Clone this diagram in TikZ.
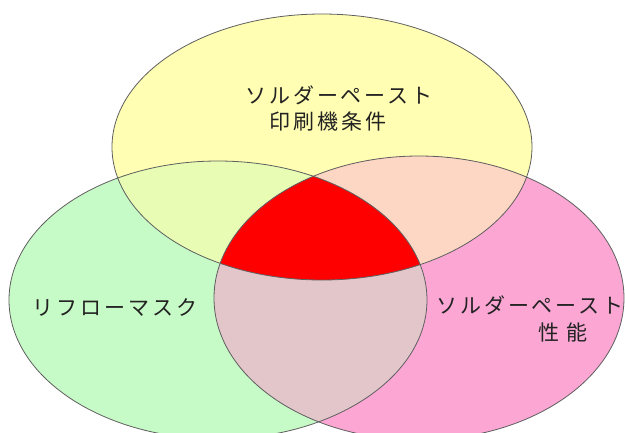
\documentclass[tikz,border=0pt]{standalone}
\usepackage{fontspec}
\setmainfont{Noto Sans CJK JP}[LetterSpace=14]
\usetikzlibrary{positioning}
\definecolor{cyellow}{RGB}{255,254,178}
\definecolor{cgreen}{RGB}{198,250,198}
\definecolor{cpink}{RGB}{252,166,212}
\definecolor{cyg}{RGB}{232,252,180}
\definecolor{cyp}{RGB}{253,215,195}
\definecolor{cgp}{RGB}{226,198,202}
\definecolor{linegray}{RGB}{95,95,95}
\definecolor{textgray}{RGB}{34,34,34}
\def\yellowset{(322,147) ellipse [x radius=210, y radius=133]}
\def\greenset{(218,300) ellipse [x radius=209, y radius=139]}
\def\pinkset{(419,298) ellipse [x radius=205, y radius=142]}

\begin{document}
\begin{tikzpicture}[x=1pt,y=-1pt,
    outline/.style={draw=linegray,line width=0.8pt},
    venntext/.style={text=textgray,font=\fontsize{21}{24}\selectfont,inner sep=0pt}]
\clip (0,0) rectangle (625,432);
\fill[white] (0,0) rectangle (625,432);
\fill[cyellow] \yellowset;
\fill[cgreen] \greenset;
\fill[cpink] \pinkset;
\begin{scope}
    \clip \yellowset;
    \fill[cyg] \greenset;
    \fill[cyp] \pinkset;
\end{scope}
\begin{scope}
    \clip \greenset;
    \fill[cgp] \pinkset;
    \clip \pinkset;
    \fill[red] \yellowset;
\end{scope}
\draw[outline] \yellowset;
\draw[outline] \greenset;
\draw[outline] \pinkset;
\node[venntext] (paste) at (339,95) {ソルダーペースト};
\node[venntext] (printer) at (328,122) {印刷機条件};
\node[venntext] (reflow) at (115,307) {リフローマスク};
\node[venntext] (paste2) at (530,305) {ソルダーペースト};
\node[venntext] (perf) at (563,332) {\addfontfeature{LetterSpace=30}性能};
\end{tikzpicture}
\end{document}
